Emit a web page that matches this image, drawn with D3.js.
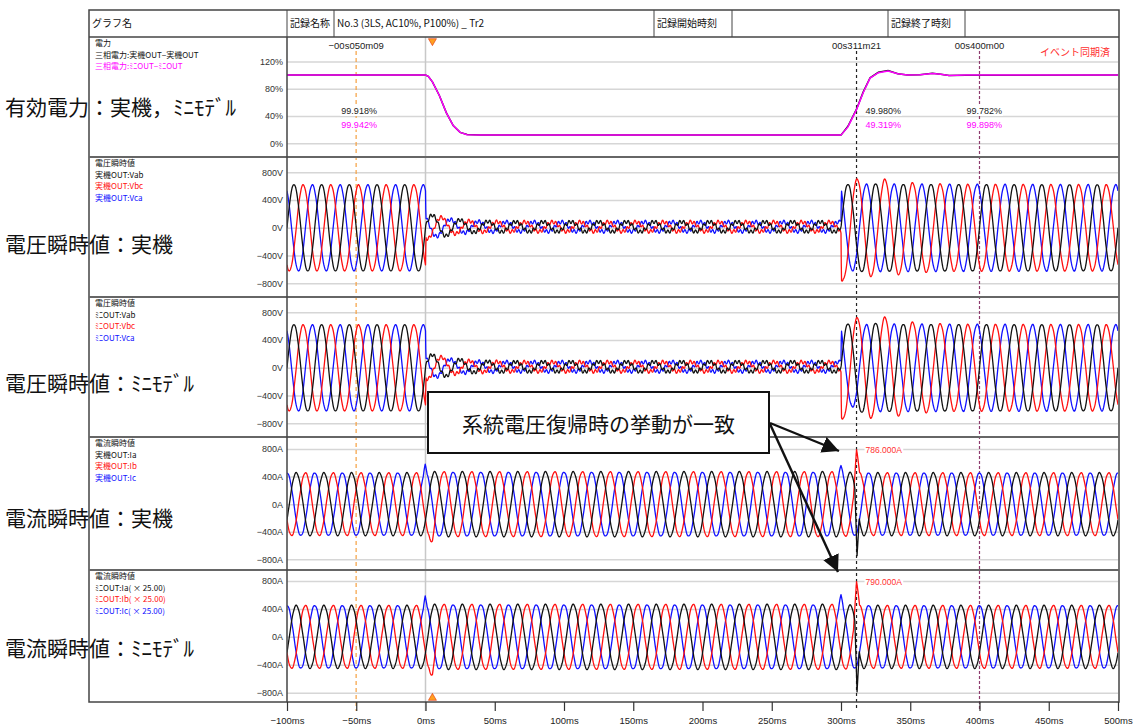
<!DOCTYPE html>
<html>
<head>
<meta charset="utf-8">
<script src="https://cdn.jsdelivr.net/npm/d3@7"></script>
<style>
  html, body { margin: 0; padding: 0; background: #fff; }
  svg { display: block; }
  text { font-family: "Liberation Sans", Arial, sans-serif; }
  .jp { font-family: "Noto Sans CJK JP", "Noto Sans", sans-serif; }
</style>
</head>
<body>
<svg id="chart" width="1133" height="726"></svg>
<script>
// ---------------- data ----------------
const timeTicks = [-100, -50, 0, 50, 100, 150, 200, 250, 300, 350, 400, 450, 500];
const powerTicks = [0, 40, 80, 120];
const voltageTicks = [-800, -400, 0, 400, 800];
const currentTicks = [-800, -400, 0, 400, 800];

const cursorTimes = [-50.09, 311.21, 400.00];
const cursorLabels = ["−00s050m09", "00s311m21", "00s400m00"];
const cursorPowerReal = ["99.918%", "49.980%", "99.782%"];
const cursorPowerMini = ["99.942%", "49.319%", "99.898%"];
const triggerTime = 5;
const peakCurrentReal = 786.0;
const peakCurrentMini = 790.0;
const peakCurrentTime = 311.21;

// three-phase active power (%)
const powerTime = [-100, 0, 2, 5, 10, 15, 20, 25, 30, 40, 100, 200, 300, 305, 311.21, 316, 321, 327, 334, 341, 348, 357, 366, 372, 378, 390, 400, 500];
const powerReal = [100, 100, 98, 90, 70, 45, 26, 16, 12.8, 12, 12, 12, 12, 25, 49.98, 75, 96, 104, 106.5, 102, 100, 100.5, 102.5, 101, 99.3, 99.8, 99.78, 100];
const powerMini = [100, 100, 98, 90, 70, 45, 26, 16, 12.6, 12, 12, 12, 12, 24, 49.32, 74, 95.5, 103.5, 106, 101.8, 100, 100.6, 102.4, 101, 99.4, 99.9, 99.9, 100];

// waveform phase: time (ms) of a positive peak within the 20 ms cycle (50 Hz)
const voltagePeakTime = [5.0, 11.67, 18.33];   // Vab, Vbc, Vca
const currentPeakTime = [6.67, 13.33, 0.0];    // Ia, Ib, Ic

// amplitude envelopes [ms, peak value]
const vRealAmp = [
  [[-100, 625], [0, 625], [0.3, 180], [8, 160], [20, 110], [35, 80], [60, 72], [300, 72], [300.3, 625], [320, 640], [340, 630], [500, 625]],
  [[-100, 620], [0, 620], [0.3, 175], [8, 150], [20, 105], [35, 78], [60, 70], [300, 70], [300.3, 740], [312, 700], [332, 700], [350, 650], [380, 625], [500, 620]],
  [[-100, 620], [0, 620], [0.3, 175], [8, 140], [20, 100], [35, 78], [60, 70], [300, 70], [300.3, 610], [320, 630], [500, 620]]
];
const vMiniAmp = [
  [[-100, 625], [0, 625], [0.3, 185], [8, 165], [20, 115], [35, 82], [60, 72], [300, 72], [300.3, 630], [320, 650], [340, 630], [500, 625]],
  [[-100, 620], [0, 620], [0.3, 180], [8, 155], [20, 105], [35, 80], [60, 70], [300, 70], [300.3, 720], [312, 720], [332, 730], [350, 660], [380, 625], [500, 620]],
  [[-100, 620], [0, 620], [0.3, 180], [8, 145], [20, 100], [35, 78], [60, 70], [300, 70], [300.3, 600], [308, 560], [320, 630], [500, 620]]
];
const vOffset = [[-100, 0], [0, 0], [0.3, 15], [300, 15], [300.3, 0], [500, 0]];
const vRipple = [[-100, 4], [0, 4], [0.3, 25], [300, 25], [300.3, 6], [500, 6]];

const iRealAmp = [
  [[-100, 455], [0, 455], [2, 470], [300, 470], [310, 455], [500, 455]],
  [[-100, 455], [0, 455], [2, 470], [300, 470], [310, 455], [500, 455]],
  [[-100, 455], [0, 455], [2, 465], [300, 465], [310, 455], [500, 455]]
];
const iMiniAmp = [
  [[-100, 450], [0, 450], [2, 465], [300, 465], [310, 450], [500, 450]],
  [[-100, 450], [0, 450], [2, 465], [300, 465], [310, 450], [500, 450]],
  [[-100, 450], [0, 450], [2, 460], [300, 460], [310, 450], [500, 450]]
];
const iOffset = [[-100, 0], [500, 0]];
const iRipple = [[-100, 5], [500, 5]];

// short transients [phase, ms, added value, half width ms]
const vRealSpikes = [[2, 300.2, 60, 1.0], [1, 300.4, -80, 1.2]];
const vMiniSpikes = [[2, 300.2, 70, 1.0], [1, 300.4, -60, 1.2]];
const iRealSpikes = [[2, -0.2, 130, 1.4], [1, 5, -130, 2.5], [2, 300, 100, 1.8], [1, 311.21, 430, 2.2], [0, 311.6, -760, 1.6]];
const iMiniSpikes = [[2, -0.2, 140, 1.4], [1, 5, -140, 2.5], [2, 300, 150, 1.8], [1, 311.21, 434, 2.2], [0, 311.6, -800, 1.6]];

const phaseColors = ["#111111", "#ff1010", "#1010ff"];
const powerColors = ["#111111", "#ff00ff"];

// ---------------- layout ----------------
const W = 1133, H = 726;
const frameLeft = 89, frameRight = 1119, frameTop = 10, headerBottom = 37, frameBottom = 702;
const plotLeft = 287, plotRight = 1118;
const svg = d3.select("#chart");

const x = d3.scaleLinear().domain([-100, 500]).range([plotLeft, plotRight]);

const panels = [
  { top: 37,  bottom: 157, domain: [0, 120],    range: [143.3, 61.4], ticks: powerTicks,   fmt: d => d + "%" },
  { top: 157, bottom: 297, domain: [-800, 800], range: [283.3, 172.3], ticks: voltageTicks, fmt: d => (d < 0 ? "−" : "") + Math.abs(d) + "V" },
  { top: 297, bottom: 437, domain: [-800, 800], range: [423.3, 312.3], ticks: voltageTicks, fmt: d => (d < 0 ? "−" : "") + Math.abs(d) + "V" },
  { top: 437, bottom: 570, domain: [-800, 800], range: [559.3, 449.0], ticks: currentTicks, fmt: d => (d < 0 ? "−" : "") + Math.abs(d) + "A" },
  { top: 570, bottom: 702, domain: [-800, 800], range: [692.7, 581.0], ticks: currentTicks, fmt: d => (d < 0 ? "−" : "") + Math.abs(d) + "A" }
];
panels.forEach(p => p.y = d3.scaleLinear().domain(p.domain).range(p.range));

const panelLegends = [
  [["電力", "#111"], ["三相電力:実機OUT−実機OUT", "#111"], ["三相電力:ﾐﾆOUT−ﾐﾆOUT", "#ff00ff"]],
  [["電圧瞬時値", "#111"], ["実機OUT:Vab", "#111"], ["実機OUT:Vbc", "#ff1010"], ["実機OUT:Vca", "#1010ff"]],
  [["電圧瞬時値", "#111"], ["ﾐﾆOUT:Vab", "#111"], ["ﾐﾆOUT:Vbc", "#ff1010"], ["ﾐﾆOUT:Vca", "#1010ff"]],
  [["電流瞬時値", "#111"], ["実機OUT:Ia", "#111"], ["実機OUT:Ib", "#ff1010"], ["実機OUT:Ic", "#1010ff"]],
  [["電流瞬時値", "#111"], ["ﾐﾆOUT:Ia( × 25.00)", "#111"], ["ﾐﾆOUT:Ib( × 25.00)", "#ff1010"], ["ﾐﾆOUT:Ic( × 25.00)", "#1010ff"]]
];
const sideTitles = ["有効電力：実機，ﾐﾆﾓﾃﾞﾙ", "電圧瞬時値：実機", "電圧瞬時値：ﾐﾆﾓﾃﾞﾙ", "電流瞬時値：実機", "電流瞬時値：ﾐﾆﾓﾃﾞﾙ"];
const sideTitleY = [106, 243, 382, 517, 647];

// ---------------- waveform builder ----------------
const PERIOD = 20;           // ms (50 Hz)
const RIPPLE_PERIOD = 2.857; // ms
const step = 0.2;
const times = d3.range(-100, 500 + 1e-9, step);
const knotScale = k => d3.scaleLinear().domain(k.map(d => d[0])).range(k.map(d => d[1])).clamp(true);

function wave(phase, peakTimes, ampSet, offKnots, ripKnots, spikes) {
  const amp = knotScale(ampSet[phase]);
  const off = knotScale(offKnots);
  const rip = knotScale(ripKnots);
  const my = spikes.filter(s => s[0] === phase);
  return times.map(t => {
    let v = amp(t) * Math.cos(2 * Math.PI * (t - peakTimes[phase]) / PERIOD)
          + off(t)
          + rip(t) * Math.sin(2 * Math.PI * t / RIPPLE_PERIOD + phase * 2.1);
    for (const s of my) {
      const d = Math.abs(t - s[1]);
      if (d < s[3]) v += s[2] * (1 - d / s[3]);
    }
    return [t, v];
  });
}

// ---------------- frame & header ----------------
svg.append("rect").attr("width", W).attr("height", H).attr("fill", "#fff");

const defs = svg.append("defs");
panels.forEach((p, i) => {
  defs.append("clipPath").attr("id", "clip" + i)
    .append("rect").attr("x", plotLeft).attr("y", p.top + 1).attr("width", plotRight - plotLeft).attr("height", p.bottom - p.top - 2);
});

// gridlines and y axes
panels.forEach((p, i) => {
  const g = svg.append("g").attr("transform", `translate(${plotLeft},0)`)
    .call(d3.axisLeft(p.y).tickValues(p.ticks).tickFormat(p.fmt).tickSize(-(plotRight - plotLeft)).tickPadding(4));
  g.select(".domain").remove();
  g.selectAll(".tick line").attr("stroke", "#d6d6d6").attr("stroke-width", 1.5);
  g.selectAll(".tick text").attr("font-size", 9).attr("fill", "#333")
    .attr("font-family", "'Liberation Sans', Arial, sans-serif");
});

// 0 ms reference line
svg.append("line").attr("x1", x(0)).attr("x2", x(0)).attr("y1", headerBottom).attr("y2", 711)
  .attr("stroke", "#c8c8c8").attr("stroke-width", 1.5);

// cursors
const cursorStyle = [
  { color: "#f5a040", dash: "4,3" },
  { color: "#222222", dash: "3,3" },
  { color: "#8e3c6e", dash: "3,2" }
];
cursorTimes.forEach((t, i) => {
  svg.append("line").attr("x1", x(t)).attr("x2", x(t)).attr("y1", 51).attr("y2", 711)
    .attr("stroke", cursorStyle[i].color).attr("stroke-width", 1.2).attr("stroke-dasharray", cursorStyle[i].dash);
  svg.append("text").attr("x", x(t)).attr("y", 49).attr("text-anchor", "middle")
    .attr("font-size", 9.5).attr("fill", "#222").text(cursorLabels[i]);
});

// power traces
const p0 = panels[0];
const powerLine = d3.line().x(d => x(d[0])).y(d => p0.y(d[1]));
[powerReal, powerMini].forEach((vals, k) => {
  svg.append("path").attr("clip-path", "url(#clip0)")
    .datum(powerTime.map((t, j) => [t, vals[j]]))
    .attr("d", powerLine).attr("fill", "none")
    .attr("stroke", powerColors[k]).attr("stroke-width", 1.5);
});

// instantaneous waveforms
const waveSets = [
  { panel: 1, peaks: voltagePeakTime, amp: vRealAmp, off: vOffset, rip: vRipple, spikes: vRealSpikes },
  { panel: 2, peaks: voltagePeakTime, amp: vMiniAmp, off: vOffset, rip: vRipple, spikes: vMiniSpikes },
  { panel: 3, peaks: currentPeakTime, amp: iRealAmp, off: iOffset, rip: iRipple, spikes: iRealSpikes },
  { panel: 4, peaks: currentPeakTime, amp: iMiniAmp, off: iOffset, rip: iRipple, spikes: iMiniSpikes }
];
waveSets.forEach(ws => {
  const p = panels[ws.panel];
  const line = d3.line().x(d => x(d[0])).y(d => p.y(d[1]));
  [2, 1, 0].forEach(ph => {
    svg.append("path").attr("clip-path", `url(#clip${ws.panel})`)
      .datum(wave(ph, ws.peaks, ws.amp, ws.off, ws.rip, ws.spikes))
      .attr("d", line).attr("fill", "none")
      .attr("stroke", phaseColors[ph]).attr("stroke-width", 1.3).attr("stroke-linejoin", "round");
  });
});

// value labels with white backing
function boxedLabel(xp, yp, txt, color, anchor, size) {
  const g = svg.append("g");
  const t = g.append("text").attr("x", xp).attr("y", yp).attr("text-anchor", anchor)
    .attr("font-size", size).attr("fill", color).text(txt);
  const bb = t.node().getBBox();
  g.insert("rect", "text").attr("x", bb.x - 1).attr("y", bb.y).attr("width", bb.width + 2).attr("height", bb.height)
    .attr("fill", "#fff");
}
const valueAnchor = ["middle", "start", "start"];
const valueShift = [3, 9, -13];
cursorTimes.forEach((t, i) => {
  boxedLabel(x(t) + valueShift[i], 114, cursorPowerReal[i], "#222", valueAnchor[i], 9);
  boxedLabel(x(t) + valueShift[i], 127.5, cursorPowerMini[i], "#ff00ff", valueAnchor[i], 9);
});
boxedLabel(x(peakCurrentTime) + 9, panels[3].y(peakCurrentReal) + 3, peakCurrentReal.toFixed(3) + "A", "#ff3030", "start", 8.5);
boxedLabel(x(peakCurrentTime) + 9, panels[4].y(peakCurrentMini) + 3, peakCurrentMini.toFixed(3) + "A", "#ff3030", "start", 8.5);

svg.append("text").attr("class", "jp").attr("x", 1040).attr("y", 55.5).attr("font-size", 10)
  .attr("fill", "#ff3030").text("イベント同期済");

// frame lines
const frame = svg.append("g").attr("stroke", "#444").attr("fill", "none");
frame.append("rect").attr("x", frameLeft).attr("y", frameTop).attr("width", frameRight - frameLeft).attr("height", frameBottom - frameTop).attr("stroke-width", 1.5);
frame.append("line").attr("x1", frameLeft).attr("x2", frameRight).attr("y1", headerBottom).attr("y2", headerBottom).attr("stroke-width", 1.5);
panels.slice(1).forEach(p => {
  frame.append("line").attr("x1", frameLeft).attr("x2", frameRight).attr("y1", p.top).attr("y2", p.top)
    .attr("stroke", "#666").attr("stroke-width", 2);
});
frame.append("line").attr("x1", plotLeft).attr("x2", plotLeft).attr("y1", headerBottom).attr("y2", frameBottom).attr("stroke-width", 1.5);
[287, 334, 654, 732, 888, 965].forEach(xx => {
  frame.append("line").attr("x1", xx).attr("x2", xx).attr("y1", frameTop).attr("y2", headerBottom).attr("stroke-width", 1);
});
const headerTexts = [[92, "グラフ名"], [290, "記録名称"], [337, "No.3 (3LS, AC10%, P100%) _ Tr2"], [657, "記録開始時刻"], [891, "記録終了時刻"]];
headerTexts.forEach(([hx, ht]) => {
  svg.append("text").attr("class", "jp").attr("x", hx).attr("y", 27).attr("font-size", 10).attr("fill", "#111").text(ht);
});

// trigger markers
const tri = d3.symbol().type(d3.symbolTriangle).size(28);
svg.append("path").attr("d", tri).attr("transform", `translate(${x(triggerTime)},41) rotate(180)`)
  .attr("fill", "#ffa020").attr("stroke", "#e03010").attr("stroke-width", 0.6);
svg.append("path").attr("d", tri).attr("transform", `translate(${x(triggerTime)},698)`)
  .attr("fill", "#ffa020").attr("stroke", "#e03010").attr("stroke-width", 0.6);

// panel legends
panelLegends.forEach((items, i) => {
  const p = panels[i];
  items.forEach((it, j) => {
    svg.append("text").attr("class", "jp").attr("x", 95).attr("y", p.top + 9 + j * 11.7)
      .attr("font-size", 8).attr("fill", it[1]).text(it[0]);
  });
});

// time axis
const xa = svg.append("g").attr("transform", `translate(0,${frameBottom})`)
  .call(d3.axisBottom(x).tickValues(timeTicks).tickSize(9).tickPadding(6)
    .tickFormat(d => (d < 0 ? "−" : "") + Math.abs(d) + "ms"));
xa.select(".domain").remove();
xa.selectAll(".tick line").attr("stroke", "#333").attr("stroke-width", 1.2);
xa.selectAll(".tick text").attr("font-size", 9.5).attr("fill", "#222")
  .attr("font-family", "'Liberation Sans Narrow', 'Arial Narrow', 'Liberation Sans', sans-serif");

// large side titles
sideTitles.forEach((s, i) => {
  svg.append("text").attr("class", "jp").attr("x", 5).attr("y", sideTitleY[i])
    .attr("dominant-baseline", "central").attr("font-size", 21).attr("fill", "#111").text(s);
});

// callout
svg.append("rect").attr("x", 428).attr("y", 392).attr("width", 341).attr("height", 61)
  .attr("fill", "#fff").attr("stroke", "#111").attr("stroke-width", 2);
svg.append("text").attr("class", "jp").attr("x", 598.5).attr("y", 423).attr("dominant-baseline", "central")
  .attr("text-anchor", "middle").attr("font-size", 21).attr("fill", "#111").text("系統電圧復帰時の挙動が一致");

defs.append("marker").attr("id", "arrow").attr("viewBox", "0 0 10 10").attr("refX", 10).attr("refY", 5)
  .attr("markerWidth", 7).attr("markerHeight", 7).attr("markerUnits", "strokeWidth").attr("orient", "auto")
  .append("path").attr("d", "M0,0 L10,5 L0,10 Z").attr("fill", "#111");
[[770, 423, 839, 451], [770, 424, 838, 572]].forEach(([x1, y1, x2, y2]) => {
  svg.append("line").attr("x1", x1).attr("y1", y1).attr("x2", x2).attr("y2", y2)
    .attr("stroke", "#111").attr("stroke-width", 2.4).attr("marker-end", "url(#arrow)");
});
</script>
</body>
</html>
